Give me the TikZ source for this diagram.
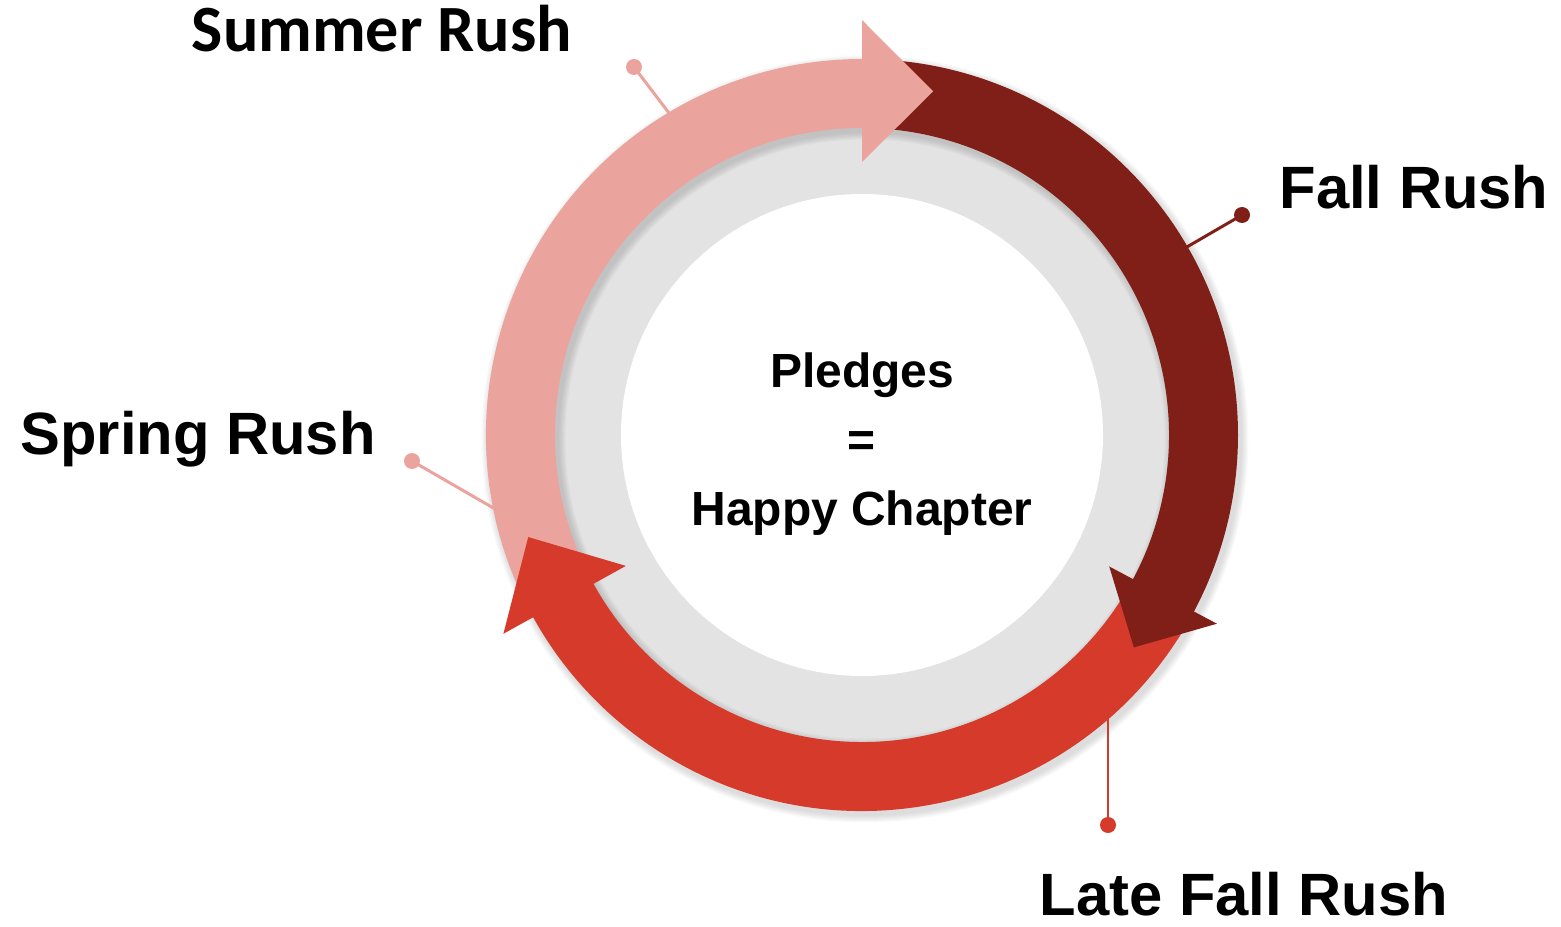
\documentclass[tikz,border=0pt]{standalone}
\usepackage{fontspec}
\setmainfont{Liberation Sans}
\newfontfamily\summerfont{Carlito}
\usetikzlibrary{positioning}
\definecolor{summercol}{HTML}{EBA39D}
\definecolor{fallcol}{HTML}{801F18}
\definecolor{latecol}{HTML}{D63A2A}
\definecolor{diskcol}{HTML}{E3E3E3}
\tikzset{
x=0.02cm, y=0.02cm, % one unit is one pixel of the sketch
rushtext/.style={font=\bfseries\fontsize{34}{40}\selectfont, anchor=base, inner sep=0pt, text depth=0pt},
pin dot/.style={circle, inner sep=0pt, minimum size=0.32cm},
leader/.style={line width=1.7pt},
}

\begin{document}
\begin{tikzpicture}
\useasboundingbox (-862,-491) rectangle (699,435);
% disk in the middle
\fill[diskcol] (0,0) circle[radius=308];
\fill[white] (0,0) circle[radius=241];
\node[font=\bfseries\fontsize{27.3}{39.3}\selectfont, align=center] (hub) at (0,-9) {Pledges\\=\\Happy Chapter};
% soft shadow of the ring
\foreach \s in {1,...,6}
  \draw[black, opacity=0.025, line width=1.38cm+\s*0.05cm] (3,-4) circle[radius=341.5];
% leaders with dots
\node[pin dot, fill=summercol] (summer dot) at (-228,368) {};
\coordinate (summer end) at (-190,318);
\node[pin dot, fill=fallcol] (fall dot) at (380,220) {};
\coordinate (fall end) at (318,184);
\node[pin dot, fill=summercol] (spring dot) at (-450,-26) {};
\coordinate (spring end) at (-360,-78);
\node[pin dot, fill=latecol] (late dot) at (246,-390) {};
\coordinate (late end) at (246,-270);
\draw[leader, summercol] (summer dot.center) -- (summer end);
\draw[leader, fallcol] (fall dot.center) -- (fall end);
\draw[leader, summercol] (spring dot.center) -- (spring end);
\draw[leader, latecol] (late dot.center) -- (late end);
% arrow bodies
\fill[fallcol] (90:376) arc[start angle=90, end angle=-28.5, radius=376]
  -- (-28.5:307) arc[start angle=-28.5, end angle=90, radius=307] -- cycle;
\fill[latecol] (-30:376) arc[start angle=-30, end angle=-151.5, radius=376]
  -- (-151.5:307) arc[start angle=-151.5, end angle=-30, radius=307] -- cycle;
\fill[summercol] (207:376) arc[start angle=207, end angle=89.5, radius=376]
  -- (89.5:307) arc[start angle=89.5, end angle=207, radius=307] -- cycle;
% arrow heads
\fill[summercol] (90:273) -- (78.3:351) -- (90:415) -- cycle;
\fill[fallcol] (-28:280) -- (-38:345) -- (-28:402) -- cycle;
\fill[latecol] (209:270) -- (197:349) -- (209:410) -- cycle;
% labels
\node[rushtext, font=\summerfont\bfseries\fontsize{37.6}{45}\selectfont] (summer) at (-480,383) {Summer Rush};
\node[rushtext] (fall) at (552,226) {Fall Rush};
\node[rushtext] (spring) at (-664,-20) {Spring Rush};
\node[rushtext] (late) at (382,-480) {Late Fall Rush};
\end{tikzpicture}
\end{document}
